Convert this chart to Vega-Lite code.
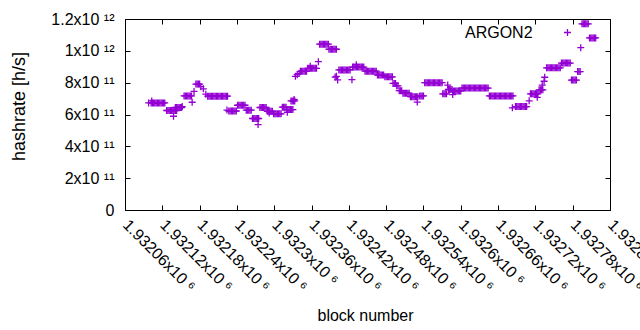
{
"$schema":"https://vega.github.io/schema/vega-lite/v6.json",
"width":485,"height":191,
"autosize":"none",
"padding":{"left":125,"top":19,"right":30,"bottom":120},
"background":"white",
"config":{"font":"Liberation Sans","view":{"stroke":"black","strokeWidth":1}},
"data":{"values":[
{"b":1932098,"h":6.73e11},{"b":1932102,"h":6.73e11},{"b":1932104,"h":6.73e11},{"b":1932106,"h":6.73e11},{"b":1932108,"h":6.73e11},{"b":1932110,"h":6.73e11},{"b":1932112,"h":6.73e11},{"b":1932114,"h":6.73e11},{"b":1932116,"h":6.73e11},{"b":1932118,"h":6.73e11},{"b":1932120,"h":6.73e11},{"b":1932122,"h":6.73e11},{"b":1932124,"h":6.73e11},{"b":1932103,"h":6.85e11},
{"b":1932127,"h":6.25e11},{"b":1932129,"h":6.25e11},{"b":1932131,"h":6.25e11},{"b":1932133,"h":6.25e11},{"b":1932135,"h":6.25e11},{"b":1932137,"h":6.25e11},{"b":1932139,"h":6.25e11},{"b":1932141,"h":6.25e11},{"b":1932143,"h":6.25e11},{"b":1932138,"h":5.89e11},
{"b":1932141,"h":6.44e11},{"b":1932143,"h":6.44e11},{"b":1932145,"h":6.44e11},{"b":1932147,"h":6.44e11},{"b":1932149,"h":6.44e11},{"b":1932151,"h":6.44e11},{"b":1932152,"h":6.5e11},
{"b":1932155,"h":7.17e11},{"b":1932157,"h":7.17e11},{"b":1932159,"h":7.17e11},{"b":1932161,"h":7.17e11},{"b":1932163,"h":7.17e11},{"b":1932165,"h":7.17e11},{"b":1932167,"h":7.17e11},
{"b":1932168,"h":6.77e11},{"b":1932171,"h":7.45e11},
{"b":1932174,"h":7.91e11},{"b":1932176,"h":7.91e11},{"b":1932178,"h":7.91e11},{"b":1932180,"h":7.91e11},{"b":1932182,"h":7.75e11},{"b":1932186,"h":7.61e11},{"b":1932190,"h":7.28e11},
{"b":1932193,"h":7.15e11},{"b":1932195,"h":7.15e11},{"b":1932197,"h":7.15e11},{"b":1932199,"h":7.15e11},{"b":1932201,"h":7.15e11},{"b":1932203,"h":7.15e11},{"b":1932205,"h":7.15e11},{"b":1932207,"h":7.15e11},{"b":1932209,"h":7.15e11},{"b":1932211,"h":7.15e11},{"b":1932213,"h":7.15e11},{"b":1932215,"h":7.15e11},{"b":1932217,"h":7.15e11},{"b":1932219,"h":7.15e11},{"b":1932221,"h":7.15e11},{"b":1932223,"h":7.15e11},{"b":1932225,"h":7.15e11},
{"b":1932224,"h":6.28e11},
{"b":1932227,"h":6.22e11},{"b":1932229,"h":6.22e11},{"b":1932231,"h":6.22e11},{"b":1932233,"h":6.22e11},{"b":1932235,"h":6.22e11},{"b":1932237,"h":6.22e11},{"b":1932239,"h":6.22e11},
{"b":1932241,"h":6.58e11},{"b":1932243,"h":6.58e11},{"b":1932245,"h":6.58e11},{"b":1932247,"h":6.58e11},{"b":1932249,"h":6.58e11},{"b":1932251,"h":6.58e11},{"b":1932253,"h":6.58e11},
{"b":1932255,"h":6.27e11},{"b":1932257,"h":6.27e11},{"b":1932259,"h":6.27e11},{"b":1932261,"h":6.27e11},{"b":1932263,"h":6.27e11},
{"b":1932265,"h":5.75e11},{"b":1932267,"h":5.75e11},{"b":1932269,"h":5.75e11},{"b":1932271,"h":5.75e11},{"b":1932273,"h":5.75e11},{"b":1932275,"h":5.75e11},{"b":1932274,"h":5.37e11},
{"b":1932277,"h":6.44e11},{"b":1932279,"h":6.44e11},{"b":1932281,"h":6.44e11},{"b":1932283,"h":6.44e11},{"b":1932285,"h":6.44e11},{"b":1932287,"h":6.44e11},
{"b":1932289,"h":6.2e11},{"b":1932291,"h":6.2e11},{"b":1932293,"h":6.2e11},{"b":1932295,"h":6.2e11},{"b":1932297,"h":6.2e11},{"b":1932292,"h":6.1e11},
{"b":1932299,"h":6.04e11},{"b":1932301,"h":6.04e11},{"b":1932303,"h":6.04e11},{"b":1932305,"h":6.04e11},{"b":1932307,"h":6.04e11},{"b":1932309,"h":6.04e11},{"b":1932311,"h":6.04e11},
{"b":1932313,"h":6.46e11},{"b":1932315,"h":6.46e11},{"b":1932317,"h":6.46e11},{"b":1932319,"h":6.46e11},{"b":1932321,"h":6.14e11},
{"b":1932320,"h":6.31e11},{"b":1932322,"h":6.31e11},{"b":1932324,"h":6.31e11},{"b":1932326,"h":6.31e11},{"b":1932328,"h":6.31e11},{"b":1932330,"h":6.31e11},
{"b":1932327,"h":6.85e11},{"b":1932329,"h":6.85e11},{"b":1932331,"h":6.85e11},{"b":1932333,"h":6.85e11},{"b":1932332,"h":6.95e11},
{"b":1932334,"h":8.4e11},{"b":1932337,"h":8.5e11},{"b":1932340,"h":8.57e11},
{"b":1932342,"h":8.71e11},{"b":1932344,"h":8.71e11},{"b":1932346,"h":8.71e11},{"b":1932348,"h":8.71e11},{"b":1932350,"h":8.71e11},{"b":1932352,"h":8.71e11},
{"b":1932354,"h":8.9e11},{"b":1932356,"h":8.9e11},{"b":1932358,"h":8.9e11},{"b":1932360,"h":8.9e11},{"b":1932362,"h":8.9e11},{"b":1932364,"h":8.9e11},{"b":1932366,"h":8.9e11},{"b":1932368,"h":8.9e11},{"b":1932358,"h":9.03e11},
{"b":1932371,"h":9.32e11},
{"b":1932373,"h":1.042e12},{"b":1932375,"h":1.042e12},{"b":1932377,"h":1.042e12},{"b":1932379,"h":1.042e12},{"b":1932381,"h":1.042e12},{"b":1932383,"h":1.042e12},{"b":1932385,"h":1.042e12},{"b":1932387,"h":1.042e12},
{"b":1932388,"h":1.01e12},{"b":1932390,"h":1.01e12},{"b":1932392,"h":1.01e12},{"b":1932394,"h":1.01e12},{"b":1932396,"h":1.01e12},{"b":1932398,"h":1.01e12},{"b":1932400,"h":1.01e12},
{"b":1932398,"h":8.35e11},{"b":1932400,"h":8.4e11},{"b":1932402,"h":8.17e11},
{"b":1932404,"h":8.8e11},{"b":1932406,"h":8.8e11},{"b":1932408,"h":8.8e11},{"b":1932410,"h":8.8e11},{"b":1932412,"h":8.8e11},{"b":1932414,"h":8.8e11},{"b":1932416,"h":8.8e11},{"b":1932418,"h":8.8e11},{"b":1932420,"h":8.8e11},{"b":1932422,"h":8.8e11},
{"b":1932425,"h":8.19e11},
{"b":1932426,"h":8.98e11},{"b":1932428,"h":8.98e11},{"b":1932430,"h":8.98e11},{"b":1932432,"h":8.98e11},{"b":1932434,"h":8.98e11},{"b":1932436,"h":8.98e11},{"b":1932438,"h":8.98e11},{"b":1932440,"h":8.98e11},{"b":1932442,"h":8.98e11},{"b":1932444,"h":8.98e11},{"b":1932432,"h":9.13e11},
{"b":1932446,"h":8.72e11},{"b":1932448,"h":8.72e11},{"b":1932450,"h":8.72e11},{"b":1932452,"h":8.72e11},{"b":1932454,"h":8.72e11},{"b":1932456,"h":8.72e11},{"b":1932458,"h":8.72e11},{"b":1932460,"h":8.72e11},{"b":1932462,"h":8.72e11},{"b":1932464,"h":8.72e11},
{"b":1932466,"h":8.48e11},{"b":1932468,"h":8.48e11},{"b":1932470,"h":8.48e11},{"b":1932472,"h":8.48e11},{"b":1932474,"h":8.48e11},{"b":1932476,"h":8.48e11},
{"b":1932478,"h":8.37e11},{"b":1932480,"h":8.37e11},{"b":1932482,"h":8.37e11},{"b":1932484,"h":8.37e11},{"b":1932486,"h":8.37e11},{"b":1932488,"h":8.37e11},{"b":1932490,"h":8.37e11},
{"b":1932491,"h":7.95e11},{"b":1932493,"h":7.95e11},{"b":1932495,"h":7.95e11},{"b":1932497,"h":7.8e11},{"b":1932499,"h":7.8e11},
{"b":1932501,"h":7.5e11},{"b":1932503,"h":7.5e11},{"b":1932505,"h":7.5e11},
{"b":1932507,"h":7.34e11},{"b":1932509,"h":7.34e11},{"b":1932511,"h":7.34e11},{"b":1932513,"h":7.34e11},{"b":1932515,"h":7.34e11},{"b":1932517,"h":7.34e11},
{"b":1932519,"h":7.12e11},{"b":1932521,"h":7.12e11},{"b":1932523,"h":7.12e11},{"b":1932525,"h":7.12e11},{"b":1932527,"h":7.12e11},{"b":1932529,"h":7.12e11},{"b":1932531,"h":7.12e11},{"b":1932530,"h":6.78e11},
{"b":1932534,"h":7.17e11},{"b":1932536,"h":7.17e11},{"b":1932538,"h":7.17e11},{"b":1932540,"h":7.17e11},
{"b":1932542,"h":8.0e11},{"b":1932544,"h":8.0e11},{"b":1932546,"h":8.0e11},{"b":1932548,"h":8.0e11},{"b":1932550,"h":8.0e11},{"b":1932552,"h":8.0e11},{"b":1932554,"h":8.0e11},{"b":1932556,"h":8.0e11},{"b":1932558,"h":8.0e11},{"b":1932560,"h":8.0e11},{"b":1932562,"h":8.0e11},{"b":1932564,"h":8.0e11},{"b":1932566,"h":8.0e11},{"b":1932568,"h":8.0e11},{"b":1932570,"h":8.0e11},
{"b":1932571,"h":7.3e11},{"b":1932573,"h":7.3e11},{"b":1932575,"h":7.3e11},{"b":1932577,"h":7.3e11},
{"b":1932579,"h":7.85e11},
{"b":1932580,"h":7.57e11},{"b":1932582,"h":7.57e11},{"b":1932584,"h":7.57e11},{"b":1932586,"h":7.57e11},{"b":1932587,"h":7.25e11},
{"b":1932588,"h":7.48e11},{"b":1932590,"h":7.48e11},{"b":1932592,"h":7.48e11},{"b":1932594,"h":7.48e11},{"b":1932596,"h":7.48e11},{"b":1932598,"h":7.48e11},{"b":1932600,"h":7.48e11},
{"b":1932602,"h":7.66e11},{"b":1932604,"h":7.66e11},{"b":1932606,"h":7.66e11},{"b":1932608,"h":7.66e11},{"b":1932610,"h":7.66e11},{"b":1932612,"h":7.66e11},{"b":1932614,"h":7.66e11},{"b":1932616,"h":7.66e11},{"b":1932618,"h":7.66e11},{"b":1932620,"h":7.66e11},{"b":1932622,"h":7.66e11},{"b":1932624,"h":7.66e11},{"b":1932626,"h":7.66e11},{"b":1932628,"h":7.66e11},{"b":1932630,"h":7.66e11},{"b":1932632,"h":7.66e11},{"b":1932634,"h":7.66e11},{"b":1932636,"h":7.66e11},{"b":1932638,"h":7.66e11},{"b":1932640,"h":7.66e11},{"b":1932642,"h":7.66e11},{"b":1932644,"h":7.66e11},
{"b":1932646,"h":7.17e11},{"b":1932648,"h":7.17e11},{"b":1932650,"h":7.17e11},{"b":1932652,"h":7.17e11},{"b":1932654,"h":7.17e11},{"b":1932656,"h":7.17e11},{"b":1932658,"h":7.17e11},{"b":1932660,"h":7.17e11},{"b":1932662,"h":7.17e11},{"b":1932664,"h":7.17e11},{"b":1932666,"h":7.17e11},{"b":1932668,"h":7.17e11},{"b":1932670,"h":7.17e11},{"b":1932672,"h":7.17e11},{"b":1932674,"h":7.17e11},{"b":1932676,"h":7.17e11},{"b":1932678,"h":7.17e11},{"b":1932680,"h":7.17e11},{"b":1932682,"h":7.17e11},{"b":1932684,"h":7.17e11},
{"b":1932683,"h":6.42e11},
{"b":1932688,"h":6.5e11},{"b":1932690,"h":6.5e11},{"b":1932692,"h":6.5e11},{"b":1932694,"h":6.5e11},{"b":1932696,"h":6.5e11},{"b":1932698,"h":6.5e11},{"b":1932700,"h":6.5e11},{"b":1932702,"h":6.5e11},{"b":1932704,"h":6.5e11},{"b":1932706,"h":6.5e11},
{"b":1932710,"h":6.86e11},
{"b":1932712,"h":7.3e11},{"b":1932714,"h":7.3e11},{"b":1932716,"h":7.3e11},{"b":1932718,"h":7.3e11},{"b":1932720,"h":7.3e11},{"b":1932722,"h":7.3e11},{"b":1932724,"h":7.3e11},{"b":1932723,"h":7.08e11},
{"b":1932726,"h":7.55e11},{"b":1932728,"h":7.55e11},{"b":1932730,"h":7.55e11},{"b":1932732,"h":7.55e11},
{"b":1932731,"h":7.84e11},{"b":1932734,"h":8.09e11},{"b":1932735,"h":8.34e11},{"b":1932738,"h":8.93e11},
{"b":1932740,"h":8.93e11},{"b":1932742,"h":8.93e11},{"b":1932744,"h":8.93e11},{"b":1932746,"h":8.93e11},{"b":1932748,"h":8.93e11},{"b":1932750,"h":8.93e11},{"b":1932752,"h":8.93e11},{"b":1932754,"h":8.93e11},{"b":1932756,"h":8.93e11},{"b":1932758,"h":8.93e11},{"b":1932760,"h":8.93e11},
{"b":1932762,"h":9.23e11},{"b":1932764,"h":9.23e11},{"b":1932766,"h":9.23e11},{"b":1932768,"h":9.23e11},{"b":1932770,"h":9.23e11},{"b":1932772,"h":9.23e11},{"b":1932774,"h":9.23e11},{"b":1932776,"h":9.23e11},
{"b":1932778,"h":8.16e11},{"b":1932780,"h":8.16e11},{"b":1932782,"h":8.16e11},{"b":1932784,"h":8.16e11},{"b":1932786,"h":8.16e11},
{"b":1932788,"h":8.7e11},{"b":1932790,"h":8.7e11},{"b":1932792,"h":8.7e11},
{"b":1932793,"h":1.02e12},
{"b":1932795,"h":1.17e12},{"b":1932797,"h":1.17e12},{"b":1932799,"h":1.17e12},{"b":1932801,"h":1.17e12},{"b":1932803,"h":1.17e12},{"b":1932805,"h":1.17e12},
{"b":1932807,"h":1.081e12},{"b":1932809,"h":1.081e12},{"b":1932811,"h":1.081e12},{"b":1932813,"h":1.081e12},{"b":1932815,"h":1.081e12},{"b":1932817,"h":1.081e12}
]},
"layer":[
{"mark":{"type":"point","shape":"M-1,0L1,0M0,-1L0,1","filled":false,"size":49,"strokeWidth":1.3,"opacity":1},
 "encoding":{
  "x":{"field":"b","type":"quantitative","scale":{"domain":[1932060,1932840],"nice":false,"zero":false},
   "axis":{"orient":"bottom","values":[1932060,1932120,1932180,1932240,1932300,1932360,1932420,1932480,1932540,1932600,1932660,1932720,1932780,1932840],
    "labelExpr":"format(datum.value/1e6,'.6~g')+'x10 ⁶'","labelAngle":45,"labelAlign":"left","labelBaseline":"middle","labelFontSize":16,"labelColor":"black","labelPadding":17,"labelOverlap":false,"labelFlush":false,"labelBound":false,
    "tickSize":-5,"tickColor":"black","domain":false,"grid":false,
    "title":"block number","titleFontSize":16,"titleFontWeight":"normal","titleColor":"black","titleX":240,"titleY":105,"titleBaseline":"middle","titleAlign":"center"}},
  "y":{"field":"h","type":"quantitative","scale":{"domain":[0,1.2e12],"nice":false},
   "axis":{"orient":"left","values":[0,2e11,4e11,6e11,8e11,1e12,1.2e12],
    "labelExpr":"datum.value == 0 ? '0' : datum.value >= 1e12 ? format(datum.value/1e12,'~g') + 'x10 ¹²' : format(datum.value/1e11,'~g') + 'x10 ¹¹'",
    "labelFontSize":16,"labelColor":"black","labelPadding":16,"labelOverlap":false,"labelFlush":false,
    "tickSize":-5,"tickColor":"black","domain":false,"grid":false,
    "title":"hashrate [h/s]","titleFontSize":18,"titleFontWeight":"normal","titleColor":"black","titleX":-106,"titleY":87,"titleAngle":-90,"titleAlign":"center","titleBaseline":"middle"}},
  "stroke":{"datum":"ARGON2","scale":{"range":["#9400D3"]},
   "legend":{"orient":"none","legendX":340,"legendY":9,"title":"ARGON2","titleOrient":"left","titleAngle":0,"titleFontSize":16,"titleFontWeight":"normal","titleColor":"black","titleBaseline":"middle","titlePadding":30,"padding":0,"labelExpr":"''","labelFontSize":1,"symbolType":"M-1,0L1,0M0,-1L0,1","symbolSize":49,"symbolStrokeWidth":1.3,"symbolStrokeColor":"#9400D3","symbolFillColor":"transparent","symbolOpacity":1}}
 }},
{"mark":{"type":"point","opacity":0},
 "encoding":{
  "x":{"field":"b","type":"quantitative","axis":{"orient":"top","values":[1932060,1932120,1932180,1932240,1932300,1932360,1932420,1932480,1932540,1932600,1932660,1932720,1932780,1932840],"labels":false,"tickSize":-5,"tickColor":"black","domain":false,"grid":false,"title":null}},
  "y":{"field":"h","type":"quantitative","axis":{"orient":"right","values":[0,2e11,4e11,6e11,8e11,1e12,1.2e12],"labels":false,"tickSize":-5,"tickColor":"black","domain":false,"grid":false,"title":null}}
 }}
],
"resolve":{"axis":{"x":"independent","y":"independent"}}
}
